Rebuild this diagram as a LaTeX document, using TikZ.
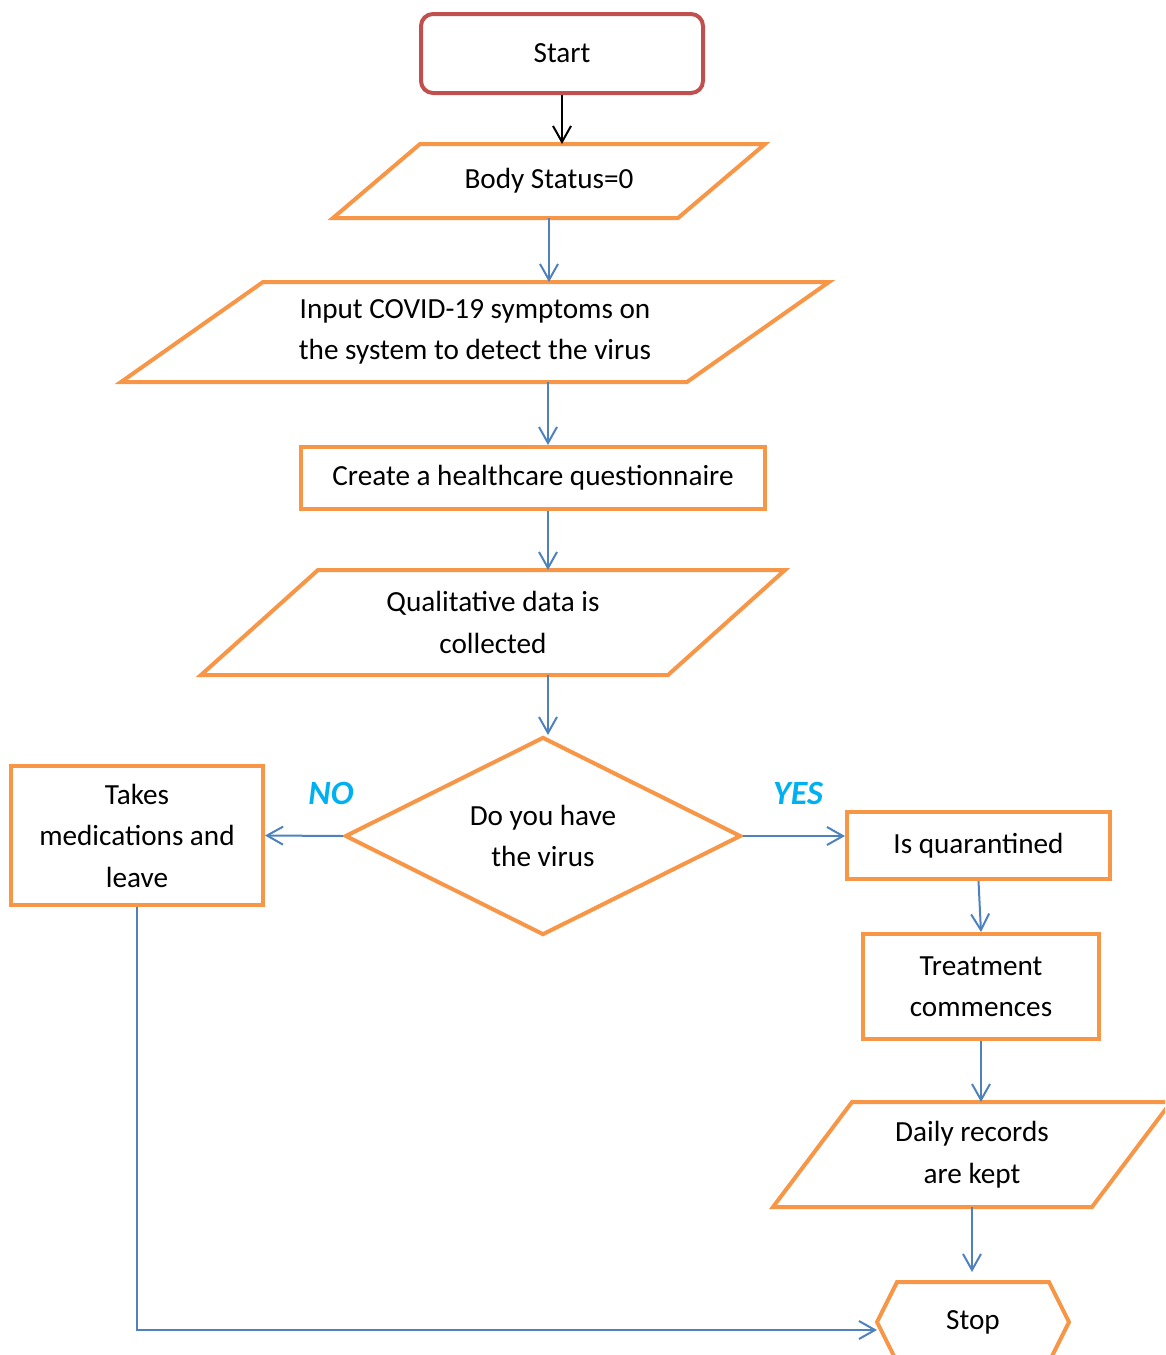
\documentclass[tikz,border=0pt]{standalone}
\usepackage{fontspec}
\setmainfont{Carlito}
\usetikzlibrary{arrows.meta,shapes.geometric}

\definecolor{boxorange}{HTML}{F79646}
\definecolor{startred}{HTML}{C0504D}
\definecolor{linkblue}{HTML}{4F81BD}
\definecolor{answerblue}{HTML}{00B0F0}

% parallelogram drawn round a plain node: #1 node, #2 slant
\newcommand{\slantbox}[2]{\draw[outline] ([xshift=#2]#1.north west) -- (#1.north east)
    -- ([xshift=-#2]#1.south east) -- (#1.south west) -- cycle;}

\begin{document}
\begin{tikzpicture}[x=1pt,y=-1pt,font=\fontsize{29.2}{41.5}\selectfont,
                    outline/.style={draw=boxorange,line width=4pt},
                    box/.style={outline,align=center},
                    io/.style={align=center,outer sep=0pt},
                    flow/.style={draw=linkblue,line width=2pt,
                        -{Straight Barb[length=16pt,width=18pt,line width=2pt]}},
                    answer/.style={text=answerblue,
                        font=\fontsize{34}{40}\selectfont\bfseries\itshape}]

        \clip (0,0) rectangle (1165,1355);
        \coordinate (col) at (548,0);

        \node[draw=startred,line width=4pt,rounded corners=12pt,
              minimum width=282pt,minimum height=79pt] (start) at (562,53.5) {Start};
        \node[io,minimum width=432pt,minimum height=74pt] (body) at (549,181) {Body Status=0};
        \node[io,minimum width=708pt,minimum height=100pt] (input) at (475,332)
              {Input COVID-19 symptoms on\\the system to detect the virus};
        \node[box,minimum width=464pt,minimum height=62pt] (quest) at (533,478)
              {Create a healthcare questionnaire};
        \node[io,minimum width=584pt,minimum height=105pt] (qual) at (493,622.5)
              {Qualitative data is\\collected};
        \node[box,diamond,aspect=2,inner sep=0pt,
              minimum width=396pt,minimum height=198pt] (ask) at (543,836)
              {Do you have\\the virus};
        \node[box,minimum width=252pt,minimum height=139pt] (meds) at (137,835.5)
              {Takes\\medications and\\leave};
        \node[box,minimum width=263pt,minimum height=67pt] (quar) at (978.5,845.5)
              {Is quarantined};
        \node[box,minimum width=236pt,minimum height=105pt] (treat) at (981,986.5)
              {Treatment\\commences};
        \node[io,minimum width=398pt,minimum height=105pt] (daily) at (972,1154.5)
              {Daily records\\are kept};
        \node[io,minimum width=192pt,minimum height=80pt] (stop) at (973,1322) {Stop};

        \slantbox{body}{87pt}
        \slantbox{input}{142pt}
        \slantbox{qual}{117pt}
        \slantbox{daily}{79pt}
        \draw[outline] (stop.west) -- ([xshift=20pt]stop.north west)
              -- ([xshift=-20pt]stop.north east) -- (stop.east)
              -- ([xshift=-20pt]stop.south east) -- ([xshift=20pt]stop.south west) -- cycle;

        \node[answer] (no) at (331,793) {NO};
        \node[answer] (yes) at (798,793) {YES};

        \draw[line width=2pt,-{Straight Barb[length=16pt,width=18pt,line width=2pt]}]
              (start.south) -- (start.south |- body.north);
        \draw[flow] (body.south) -- (body.south |- input.north);
        \draw[flow] (col |- input.south) -- (col |- quest.north);
        \draw[flow] (col |- quest.south) -- (col |- qual.north);
        \draw[flow] (col |- qual.south) -- (col |- ask.north);
        \draw[flow] (ask.west) -- (meds.east);
        \draw[flow] (ask.east) -- (ask.east -| quar.west);
        \draw[flow] (quar.south) -- (treat.north);
        \draw[flow] (treat.south) -- (treat.south |- daily.north);
        \draw[flow,shorten >=10pt] (daily.south) -- (daily.south |- stop.north);
        \draw[flow] (meds.south) |- ([yshift=-8pt]stop.west);
    \end{tikzpicture}
\end{document}
